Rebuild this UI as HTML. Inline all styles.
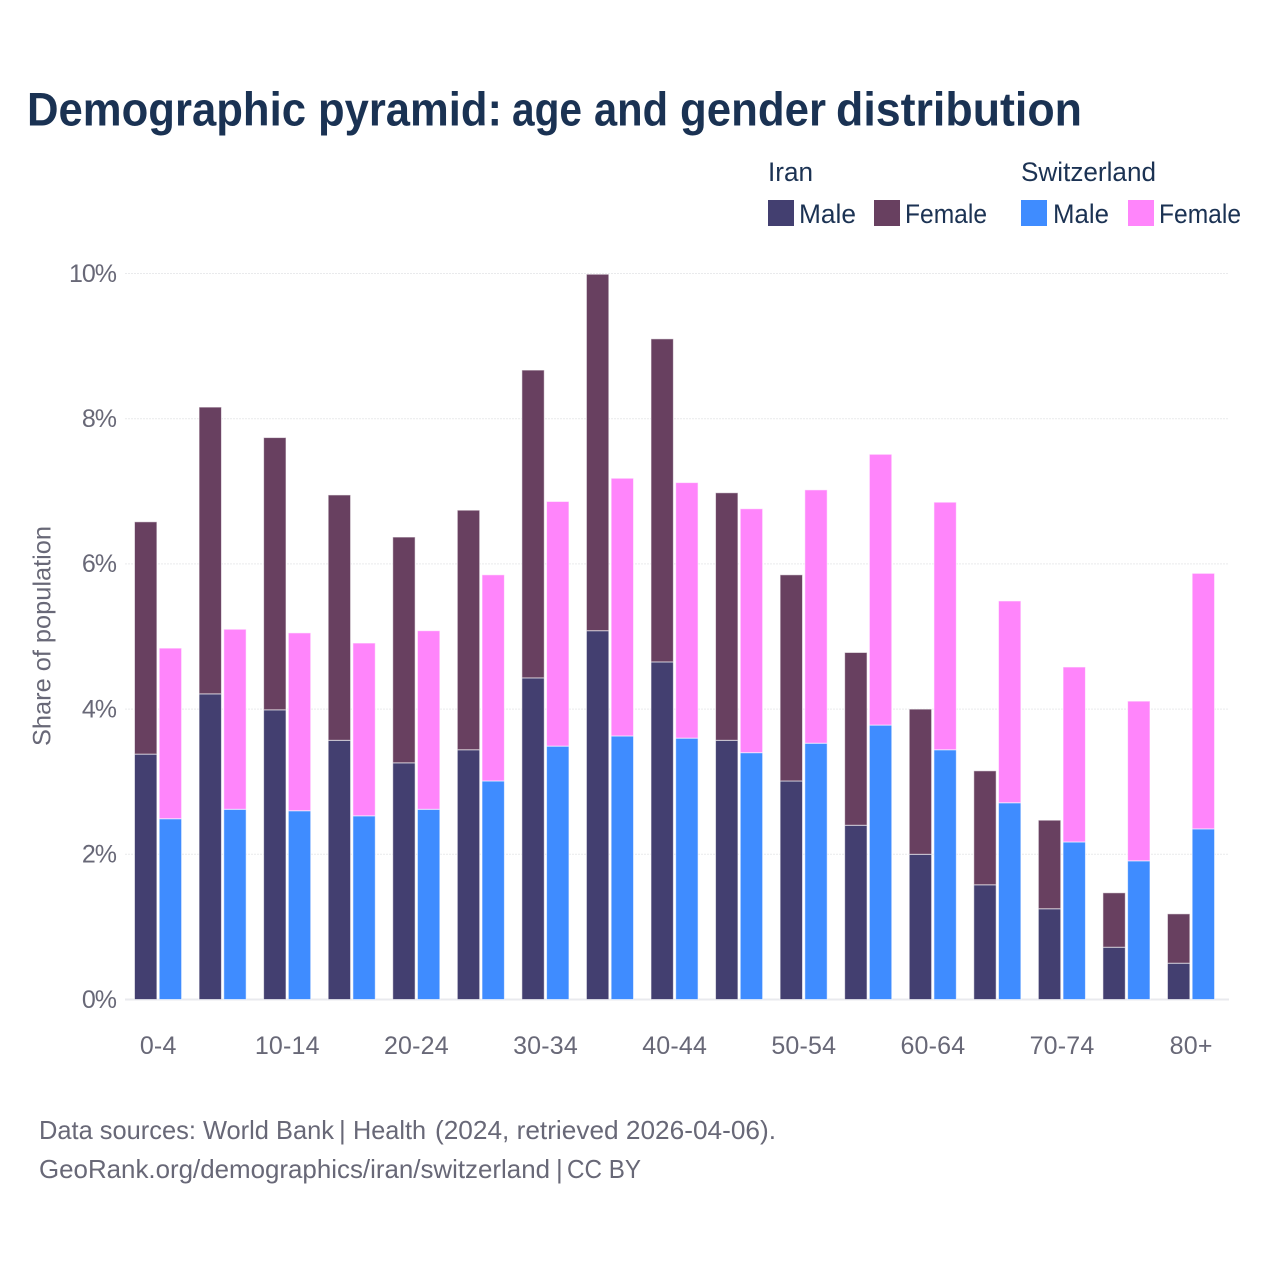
<!DOCTYPE html>
<html>
<head>
<meta charset="utf-8">
<title>Demographic pyramid</title>
<style>
html,body{margin:0;padding:0;background:#fff}
svg{display:block}
text{font-family:"Liberation Sans",sans-serif}
.tick{font-size:25px;fill:#686877}
.legend{font-size:26.5px;fill:#1b3253}
.foot{font-size:26px;fill:#686877}
</style>
</head>
<body>
<svg id="chart" width="1280" height="1280" viewBox="0 0 1280 1280" xmlns="http://www.w3.org/2000/svg">
<rect x="0" y="0" width="1280" height="1280" fill="#ffffff"/>
<text y="125.5" font-size="47.5" font-weight="700" fill="#1a3253"><tspan x="27" textLength="279" lengthAdjust="spacingAndGlyphs">Demographic</tspan> <tspan x="318" textLength="184" lengthAdjust="spacingAndGlyphs">pyramid:</tspan> <tspan x="512" textLength="70" lengthAdjust="spacingAndGlyphs">age</tspan> <tspan x="594" textLength="74" lengthAdjust="spacingAndGlyphs">and</tspan> <tspan x="680" textLength="146" lengthAdjust="spacingAndGlyphs">gender</tspan> <tspan x="836" textLength="246" lengthAdjust="spacingAndGlyphs">distribution</tspan></text>

<g>
<text class="legend" x="768" y="181" textLength="45" lengthAdjust="spacingAndGlyphs">Iran</text>
<text class="legend" x="1021" y="181" textLength="135" lengthAdjust="spacingAndGlyphs">Switzerland</text>
<rect x="768" y="200" width="26" height="26" fill="#433f70"/>
<text class="legend" x="799" y="223" textLength="57" lengthAdjust="spacingAndGlyphs">Male</text>
<rect x="874" y="200" width="26" height="26" fill="#684060"/>
<text class="legend" x="905" y="223" textLength="82" lengthAdjust="spacingAndGlyphs">Female</text>
<rect x="1021" y="200" width="26" height="26" fill="#3f8cff"/>
<text class="legend" x="1053" y="223" textLength="56" lengthAdjust="spacingAndGlyphs">Male</text>
<rect x="1128" y="200" width="26" height="26" fill="#ff85fb"/>
<text class="legend" x="1159" y="223" textLength="82" lengthAdjust="spacingAndGlyphs">Female</text>
</g>

<g id="grid"></g>
<g id="bars"></g>
<g id="yaxis"></g>
<g id="xaxis"></g>

<text transform="translate(50.5,636) rotate(-90)" text-anchor="middle" font-size="25" fill="#686877" textLength="220" lengthAdjust="spacingAndGlyphs">Share of population</text>

<text class="foot" y="1139"><tspan x="39" textLength="295" lengthAdjust="spacingAndGlyphs">Data sources: World Bank</tspan> <tspan x="339">|</tspan> <tspan x="353" textLength="73" lengthAdjust="spacingAndGlyphs">Health</tspan> <tspan x="435" textLength="341" lengthAdjust="spacingAndGlyphs">(2024, retrieved 2026-04-06).</tspan></text>
<text class="foot" y="1178"><tspan x="39" textLength="511" lengthAdjust="spacingAndGlyphs">GeoRank.org/demographics/iran/switzerland</tspan> <tspan x="556">|</tspan> <tspan x="567" textLength="74" lengthAdjust="spacingAndGlyphs">CC BY</tspan></text>
</svg>
<script>
const categories = ["0-4","5-9","10-14","15-19","20-24","25-29","30-34","35-39","40-44","45-49","50-54","55-59","60-64","65-69","70-74","75-79","80+"];
const iranMale = [3.38,4.21,3.99,3.57,3.26,3.44,4.43,5.08,4.65,3.57,3.01,2.40,2.00,1.58,1.25,0.72,0.50];
const iranFemale = [3.20,3.95,3.75,3.38,3.11,3.30,4.24,4.91,4.45,3.41,2.84,2.38,2.00,1.57,1.22,0.75,0.68];
const switzerlandMale = [2.49,2.62,2.60,2.53,2.62,3.01,3.49,3.63,3.60,3.40,3.53,3.78,3.44,2.71,2.17,1.91,2.35];
const switzerlandFemale = [2.35,2.48,2.45,2.38,2.46,2.84,3.37,3.55,3.52,3.36,3.49,3.73,3.41,2.78,2.41,2.20,3.52];
const yTicks = [0,2,4,6,8,10];
const xTickLabels = ["0-4","10-14","20-24","30-34","40-44","50-54","60-64","70-74","80+"];

const NS = 'http://www.w3.org/2000/svg';
function yScale(v){ return 999.5 - v * 72.6; }
function xCenter(i){ return 158.2 + i * 64.56; }
function make(tag, attrs, parent){
  const el = document.createElementNS(NS, tag);
  for (const k in attrs) el.setAttribute(k, attrs[k]);
  parent.appendChild(el);
  return el;
}
const grid = document.getElementById('grid');
const yaxis = document.getElementById('yaxis');
const xaxis = document.getElementById('xaxis');
const bars = document.getElementById('bars');

yTicks.forEach(function(t){
  const line = make('line', {x1:125, x2:1229, y1:yScale(t), y2:yScale(t), stroke: t === 0 ? '#e9eaee' : '#e9eaec', 'stroke-width': t === 0 ? 2 : 1, 'stroke-dasharray': t === 0 ? 'none' : '2 1'}, grid);
  
  
  const label = make('text', {x:116, y:yScale(t) + 8.3, 'text-anchor':'end', class:'tick', 'letter-spacing':-1}, yaxis);
  label.textContent = t + '%';
  
  
});

xTickLabels.forEach(function(c){
  const i = categories.indexOf(c);
  const label = make('text', {x:xCenter(i), y:1054, 'text-anchor':'middle', class:'tick', 'letter-spacing':0.2}, xaxis);
  label.textContent = c;
  
  
});

function drawBar(i, offset, base, value, fill){
  const yTop = yScale(base + value);
  const yBottom = yScale(base);
  const r = make('rect', {x:xCenter(i) + offset, y:yTop, width:22.4, height:yBottom - yTop, fill:fill, stroke:'#ffffff', 'stroke-opacity':0.6, 'stroke-width':1}, bars);
  return r;
}
categories.forEach(function(c, i){
  const a = drawBar(i, -23.7, 0, iranMale[i], '#433f70');
  
  
  const b = drawBar(i, -23.7, iranMale[i], iranFemale[i], '#684060');
  
  
  const d = drawBar(i, 1, 0, switzerlandMale[i], '#3f8cff');
  
  
  const e = drawBar(i, 1, switzerlandMale[i], switzerlandFemale[i], '#ff85fb');
  
  
});
</script>
</body>
</html>
